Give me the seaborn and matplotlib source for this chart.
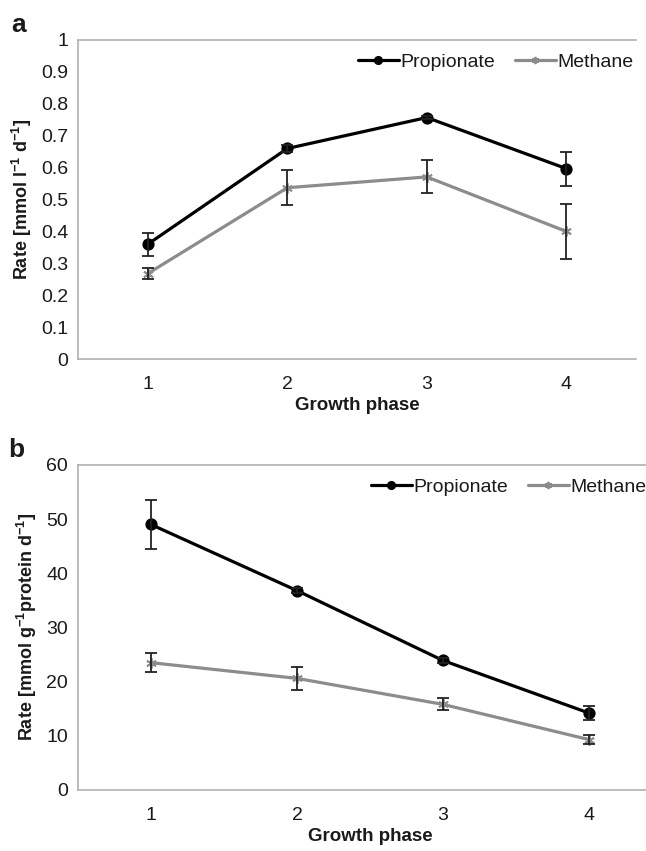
import numpy as np
import pandas as pd
import seaborn as sns
import matplotlib.pyplot as plt
from matplotlib.ticker import FixedLocator, MultipleLocator

sns.set_style("white")
plt.rcParams['font.family'] = ['Liberation Sans', 'DejaVu Sans']
plt.rcParams['mathtext.fontset'] = 'custom'
plt.rcParams['mathtext.rm'] = 'Liberation Sans:bold'
plt.rcParams['mathtext.bf'] = 'Liberation Sans:bold'

# data
phases = [1, 2, 3, 4]
series = ['Propionate', 'Methane']

# panel a: rate per litre
prop_a = [0.36, 0.66, 0.757, 0.597]
prop_a_err = [0.036, 0.012, 0.006, 0.053]
meth_a = [0.268, 0.537, 0.571, 0.40]
meth_a_err = [0.016, 0.055, 0.052, 0.085]

# panel b: rate per g protein
prop_b = [49.0, 36.8, 23.9, 14.2]
prop_b_err = [4.5, 0.5, 0.4, 1.3]
meth_b = [23.5, 20.6, 15.8, 9.3]
meth_b_err = [1.8, 2.1, 1.1, 0.9]

colors = {'Propionate': 'black', 'Methane': '#8c8c8c'}
markers = {'Propionate': 'o', 'Methane': (6, 2, 0)}
grey = '#b0b0b0'
txt = '#1a1a1a'

fig = plt.figure(figsize=(6.46, 8.51), dpi=100)
ax_a = fig.add_axes([0.1207, 0.578, 0.864, 0.375])
ax_b = fig.add_axes([0.1207, 0.0717, 0.904, 0.382])


def panel(ax, p, pe, m, me, ymax, ystep, ylabel, letter, leg_x):
    for name, vals in [('Propionate', p), ('Methane', m)]:
        df = pd.DataFrame({'phase': phases, 'rate': vals})
        sns.lineplot(data=df, x='phase', y='rate', color=colors[name],
                     marker=markers[name], ax=ax, label=name,
                     linewidth=2.3, markersize=7.5, markeredgewidth=1.3,
                     markeredgecolor=colors[name])
    for vals, errs in [(p, pe), (m, me)]:
        ax.errorbar(phases, vals, yerr=errs, fmt='none', ecolor='#222222',
                    elinewidth=1.3, capsize=4, capthick=1.3, zorder=5)

    ax.set_xlim(0.5, 4.5)
    ax.set_ylim(0, ymax)
    ax.yaxis.set_major_locator(MultipleLocator(ystep))
    ax.xaxis.set_major_locator(FixedLocator(phases))
    ax.xaxis.set_minor_locator(FixedLocator([0.5, 1.5, 2.5, 3.5, 4.5]))
    ax.set_xticklabels([str(x) for x in phases])
    ax.tick_params(axis='x', which='major', length=0, labelsize=14, pad=12,
                   labelcolor=txt)
    ax.tick_params(axis='x', which='minor', length=5, color=grey, width=1)
    ax.tick_params(axis='y', length=5, color=grey, width=1, labelsize=14,
                   pad=2, labelcolor=txt)
    for s in ['left', 'bottom', 'top']:
        ax.spines[s].set_color(grey)
        ax.spines[s].set_linewidth(1.2)
    ax.spines['right'].set_visible(False)

    ax.set_xlabel('Growth phase', fontsize=13.5, fontweight='bold',
                  labelpad=3, color=txt)
    ax.set_ylabel(ylabel, fontsize=13, fontweight='bold', labelpad=5,
                  color=txt)
    ax.text(-0.12, 1.01, letter, transform=ax.transAxes, fontsize=19,
            fontweight='bold', va='bottom', ha='left', color=txt)

    h, l = ax.get_legend_handles_labels()
    leg = ax.legend(h, l, loc='upper right', bbox_to_anchor=(leg_x, 1.0),
                    ncol=2, frameon=False, fontsize=14, handlelength=2.1,
                    handletextpad=0.1, columnspacing=1.0, borderaxespad=0.3,
                    markerscale=0.7)
    for t in leg.get_texts():
        t.set_color(txt)


panel(ax_a, prop_a, prop_a_err, meth_a, meth_a_err, 1.0, 0.1,
      r'Rate [mmol l$^{-1}$ d$^{-1}$]', 'a', 1.02)
ax_a.set_yticks(np.round(np.arange(0, 1.01, 0.1), 1))
ax_a.set_yticklabels(['0'] + ['%.1f' % v for v in np.arange(0.1, 0.95, 0.1)] + ['1'])
panel(ax_b, prop_b, prop_b_err, meth_b, meth_b_err, 60, 10,
      r'Rate [mmol g$^{-1}$protein d$^{-1}$]', 'b', 0.997)

fig.savefig('out.png', dpi=100)
